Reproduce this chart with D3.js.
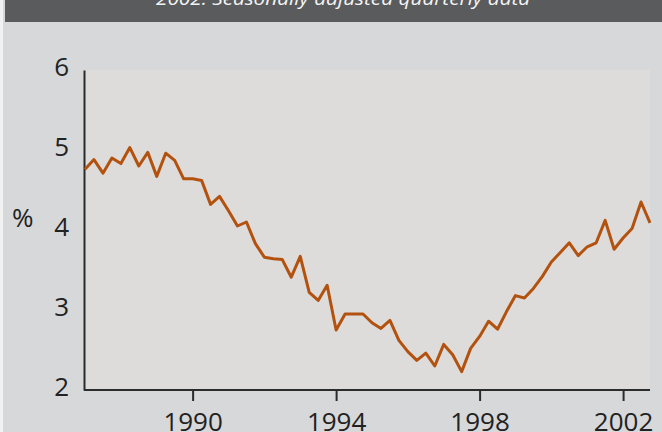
<!DOCTYPE html>
<html>
<head>
<meta charset="utf-8">
<script src="https://cdn.jsdelivr.net/npm/d3@7"></script>
<style>
  html, body { margin: 0; padding: 0; background: #f2f2f2; }
  svg { display: block; }
</style>
</head>
<body>
<figure id="chart" style="margin:0"></figure>
<script>
// quarterly series, 1987 Q1 .. 2002 Q4
const startYear = 1987;
const rates = [
  4.76, 4.88, 4.71, 4.90, 4.83, 5.03, 4.80, 4.97,
  4.67, 4.96, 4.87, 4.64, 4.64, 4.62, 4.32, 4.42,
  4.24, 4.05, 4.10, 3.83, 3.66, 3.64, 3.63, 3.41,
  3.67, 3.22, 3.12, 3.31, 2.75, 2.95, 2.95, 2.95,
  2.84, 2.77, 2.87, 2.62, 2.48, 2.37, 2.46, 2.30,
  2.57, 2.44, 2.23, 2.52, 2.67, 2.86, 2.76, 2.98,
  3.18, 3.15, 3.27, 3.42, 3.60, 3.72, 3.84, 3.68,
  3.79, 3.84, 4.12, 3.76, 3.90, 4.02, 4.35, 4.09
];
const yTicks = [2, 3, 4, 5, 6];
const xTicks = [1990, 1994, 1998, 2002];
const subtitle = "2002: Seasonally adjusted quarterly data";

const width = 662, height = 432;
const plot = { left: 84, right: 650, top: 70, bottom: 390 };

const svg = d3.select("figure#chart")
  .append("svg")
  .attr("width", width)
  .attr("height", height);

// backgrounds
svg.append("rect")
  .attr("x", 3).attr("y", 0)
  .attr("width", width - 3).attr("height", height)
  .attr("fill", "#d7d8da");

svg.append("rect")
  .attr("x", 5).attr("y", 0)
  .attr("width", width - 5).attr("height", 22)
  .attr("fill", "#5a5b5d");

svg.append("text")
  .attr("x", 156).attr("y", 5)
  .attr("textLength", 374)
  .attr("lengthAdjust", "spacingAndGlyphs")
  .style("font-family", "'Open Sans', sans-serif")
  .style("font-style", "italic")
  .style("font-size", "18px")
  .style("fill", "#f4f4f4")
  .text(subtitle);

svg.append("rect")
  .attr("x", plot.left).attr("y", plot.top)
  .attr("width", plot.right - plot.left)
  .attr("height", plot.bottom - plot.top)
  .attr("fill", "#dddcda");

const x = d3.scaleLinear()
  .domain([startYear, startYear + (rates.length - 1) / 4])
  .range([plot.left + 1, plot.right]);

const y = d3.scaleLinear()
  .domain([2, 6])
  .range([plot.bottom, plot.top]);

const font = "'Open Sans', sans-serif";

// y axis
const yAxis = svg.append("g")
  .attr("transform", `translate(${plot.left},0)`)
  .call(d3.axisLeft(y).tickValues(yTicks).tickSize(0).tickPadding(15).tickFormat(d3.format("d")));
yAxis.select(".domain").attr("stroke", "#2b2b2b").attr("stroke-width", 2);
yAxis.selectAll("text")
  .attr("dy", "0.2em")
  .style("font-family", font)
  .style("font-size", "26px")
  .style("fill", "#222");

svg.append("text")
  .attr("x", 12).attr("y", 227)
  .style("font-family", font)
  .style("font-size", "26px")
  .style("fill", "#222")
  .text("%");

// x axis
const xAxis = svg.append("g")
  .attr("transform", `translate(0,${plot.bottom})`)
  .call(d3.axisBottom(x).tickValues(xTicks).tickSize(11).tickPadding(12).tickFormat(d3.format("d")));
xAxis.select(".domain")
  .attr("d", `M${plot.left},0H${plot.right}`)
  .attr("stroke", "#2b2b2b").attr("stroke-width", 2);
xAxis.selectAll(".tick line").attr("stroke", "#2b2b2b").attr("stroke-width", 2);
xAxis.selectAll("text")
  .style("font-family", font)
  .style("font-size", "26px")
  .style("fill", "#222");

// series line
const line = d3.line()
  .x((d, i) => x(startYear + i / 4))
  .y(d => y(d));

svg.append("path")
  .datum(rates)
  .attr("d", line)
  .attr("fill", "none")
  .attr("stroke", "#b3520f")
  .attr("stroke-width", 3)
  .attr("stroke-linejoin", "round");
</script>
</body>
</html>
